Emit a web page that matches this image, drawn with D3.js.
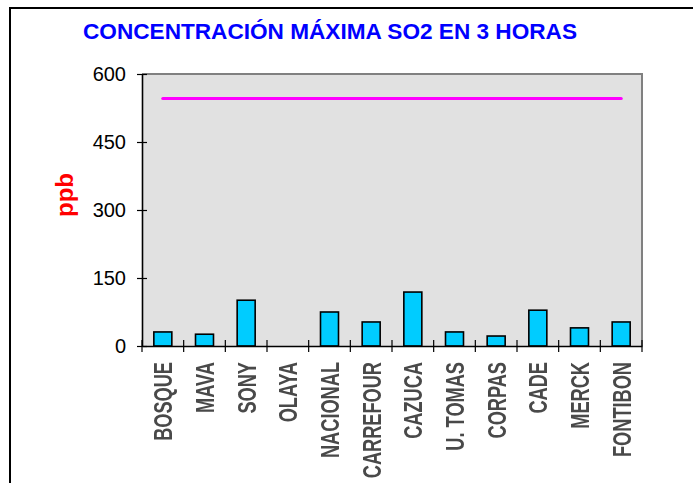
<!DOCTYPE html>
<html><head><meta charset="utf-8">
<script src="https://cdn.jsdelivr.net/npm/d3@7"></script>
<style>body{margin:0;background:#fff}svg{display:block}</style>
</head><body>
<script>
const categories = ["BOSQUE","MAVA","SONY","OLAYA","NACIONAL","CARREFOUR","CAZUCA","U. TOMAS","CORPAS","CADE","MERCK","FONTIBON"];
const values = [31, 26, 101, null, 75, 53, 119, 31, 22, 79, 40, 53];
const limitValue = 546;
const yTicks = [0, 150, 300, 450, 600];
const title = "CONCENTRACIÓN MÁXIMA SO2 EN 3 HORAS";
const yLabel = "ppb";

const W = 693, H = 483;
const svg = d3.select("body").append("svg").attr("width", W).attr("height", H);
const defs = svg.append("defs");
defs.append("filter").attr("id","soft").append("feGaussianBlur").attr("stdDeviation",0.6);

// outer frame
svg.append("rect").attr("x",10).attr("y",8).attr("width",720).attr("height",520)
  .attr("fill","none").attr("stroke","#000").attr("stroke-width",2);

const L = 142, R = 642, T = 74, B = 346;
const x = d3.scaleBand().domain(categories).range([L, R]);
const y = d3.scaleLinear().domain([0, 600]).range([B, T]);

// plot background
svg.append("rect").attr("x",L).attr("y",T).attr("width",R-L).attr("height",B-T)
  .attr("fill","#e1e1e1");
svg.append("path").attr("d",`M${L},${T}H${R}V${B}`).attr("fill","none")
  .attr("stroke","#808080").attr("stroke-width",2);

// limit line
svg.append("line")
  .attr("x1", x(categories[0]) + x.bandwidth()/2)
  .attr("x2", x(categories[categories.length-1]) + x.bandwidth()/2)
  .attr("y1", y(limitValue)).attr("y2", y(limitValue))
  .attr("stroke","#ff00ff").attr("stroke-width",3.2).attr("stroke-linecap","round");

// bars
const bw = 18;
svg.append("g").selectAll("rect")
  .data(categories.map((c,i)=>({c, v: values[i]})).filter(d=>d.v!=null))
  .join("rect")
  .attr("x", d => x(d.c) + x.bandwidth()/2 - bw/2)
  .attr("y", d => y(d.v))
  .attr("width", bw)
  .attr("height", d => y(0) - y(d.v))
  .attr("fill","#00ccff").attr("stroke","#000").attr("stroke-width",1.6);

// y axis
const yAxis = svg.append("g").attr("transform",`translate(${L},0)`)
  .call(d3.axisLeft(y).tickValues(yTicks).tickSize(0).tickPadding(16).tickFormat(d3.format("d")));
yAxis.select(".domain").attr("stroke","#000").attr("stroke-width",1.6);
yAxis.selectAll(".tick text").attr("font-family","Liberation Sans, Arial, sans-serif")
  .attr("font-size",20).attr("fill","#000");
yAxis.selectAll(".tick").append("line").attr("x1",-5).attr("x2",5).attr("stroke","#000").attr("stroke-width",1.2);

// x axis
const xAxis = svg.append("g").attr("transform",`translate(0,${B})`)
  .call(d3.axisBottom(x).tickSize(0).tickFormat(""));
xAxis.select(".domain").attr("stroke","#000").attr("stroke-width",1.6);
const bounds = categories.map(c => x(c)).concat([R]);
xAxis.append("g").selectAll("line").data(bounds).join("line")
  .attr("x1", d=>d).attr("x2", d=>d).attr("y1",-6).attr("y2",6)
  .attr("stroke","#000").attr("stroke-width",1.2);

// x labels
const lab = svg.append("g").attr("filter","url(#soft)");
lab.selectAll("g").data(categories).join("g")
  .attr("transform", d => `translate(${x(d)+x.bandwidth()/2},362) rotate(-90)`)
  .append("text")
  .attr("transform","scale(0.70,1)")
  .attr("text-anchor","end").attr("dy","0.36em")
  .attr("font-family","Liberation Sans, Arial, sans-serif").attr("font-size",26)
  .attr("font-weight","bold")
  .attr("fill","#4a4a4a")
  .text(d=>d);

// title
svg.append("text").attr("x",83).attr("y",39)
  .attr("textLength",494).attr("lengthAdjust","spacingAndGlyphs")
  .attr("font-family","Liberation Sans, Arial, sans-serif").attr("font-weight","bold")
  .attr("font-size",22.5).attr("fill","#0000ff").text(title);

// y label
svg.append("text").attr("transform","translate(73,195) rotate(-90)")
  .attr("text-anchor","middle")
  .attr("font-family","Liberation Sans, Arial, sans-serif").attr("font-weight","bold")
  .attr("font-size",24).attr("fill","#ff0000").text(yLabel);
</script>
</body></html>
